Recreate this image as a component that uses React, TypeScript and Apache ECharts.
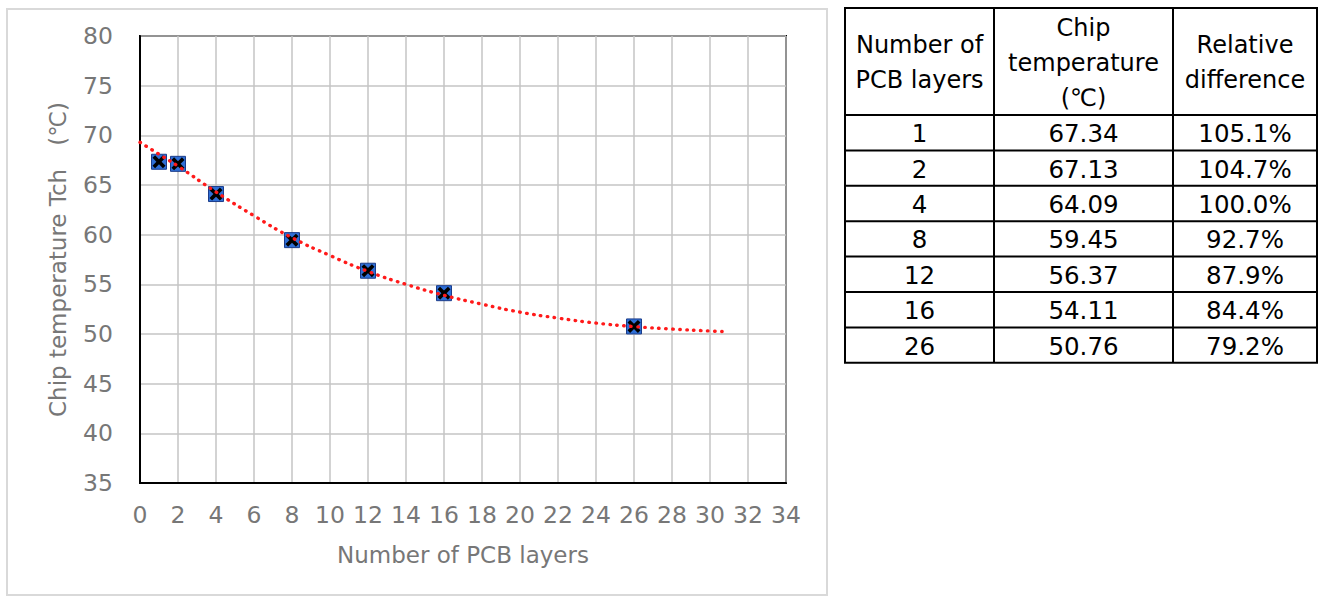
import React, { useEffect, useRef } from "react";
import * as echarts from "echarts";

const layers = [1, 2, 4, 8, 12, 16, 26];
const chipTemps = [67.34, 67.13, 64.09, 59.45, 56.37, 54.11, 50.76];
const relativeDiff = ["105.1%", "104.7%", "100.0%", "92.7%", "87.9%", "84.4%", "79.2%"];
const trendX = [0, 1, 2, 4, 6, 8, 10, 12, 14, 16, 18, 20, 22, 24, 26, 28, 30, 30.7];
const trendY = [69.3, 68.1, 66.9, 64.3, 61.9, 59.7, 57.9, 56.3, 55.0, 53.9, 53.0, 52.2, 51.6, 51.1, 50.75, 50.5, 50.3, 50.25];
const tableHeaders = ["Number of\nPCB layers", "Chip\ntemperature\n(℃)", "Relative\ndifference"];
const xAxisName = "Number of PCB layers";
const yAxisName = "Chip temperature Tch\u3000(℃)";

const FONT = "'DejaVu Sans', 'Noto Sans CJK JP', sans-serif";

export default function App() {
  const ref = useRef<HTMLDivElement>(null);

  useEffect(() => {
    document.body.style.margin = "0";
    if (!ref.current) return;
    const chart = echarts.init(ref.current, null, { renderer: "svg" });

    const colX = [845, 994, 1173, 1317];
    const tTop = 8;
    const headBottom = 115;
    const rowH = 35.4;
    const nRows = layers.length;
    const tBottom = headBottom + rowH * nRows;
    const els: any[] = [];
    els.push({
      type: "rect",
      shape: { x: 7, y: 9, width: 820, height: 586 },
      style: { fill: "none", stroke: "#d9d9d9", lineWidth: 2 },
      silent: true,
    });
    colX.forEach((x) => {
      els.push({ type: "line", shape: { x1: x, y1: tTop, x2: x, y2: tBottom }, style: { stroke: "#000", lineWidth: 2 } });
    });
    const rowYs = [tTop, headBottom];
    for (let i = 1; i <= nRows; i++) rowYs.push(headBottom + rowH * i);
    rowYs.forEach((y) => {
      els.push({ type: "line", shape: { x1: colX[0] - 1, y1: y, x2: colX[3] + 1, y2: y }, style: { stroke: "#000", lineWidth: 2 } });
    });
    const colC = [0, 1, 2].map((i) => (colX[i] + colX[i + 1]) / 2);
    tableHeaders.forEach((h, i) => {
      els.push({
        type: "text",
        x: colC[i],
        y: (tTop + headBottom) / 2 + 1,
        style: { text: h, fontSize: 24, fontFamily: FONT, fill: "#000", align: "center", verticalAlign: "middle", lineHeight: 35 },
      });
    });
    layers.forEach((l, r) => {
      const cy = headBottom + rowH * (r + 0.5) + 1;
      const vals = [String(l), chipTemps[r].toFixed(2), relativeDiff[r]];
      vals.forEach((v, c) => {
        els.push({
          type: "text",
          x: colC[c],
          y: cy,
          style: { text: v, fontSize: 24.5, fontFamily: FONT, fill: "#000", align: "center", verticalAlign: "middle" },
        });
      });
    });

    const pts = layers.map((x, i) => [x, chipTemps[i]]);

    chart.setOption({
      animation: false,
      backgroundColor: "#fff",
      textStyle: { fontFamily: FONT },
      grid: { left: 140, top: 36, right: 1322 - 786, bottom: 599 - 483, show: true, borderColor: "#000", borderWidth: 2 },
      xAxis: {
        type: "value",
        min: 0,
        max: 34,
        interval: 2,
        name: xAxisName,
        nameLocation: "middle",
        nameGap: 60,
        nameTextStyle: { fontSize: 23, color: "#777", fontFamily: FONT },
        axisLine: { show: true, lineStyle: { color: "#000", width: 2 } },
        axisTick: { show: false },
        axisLabel: { fontSize: 23.5, color: "#777", margin: 20, fontFamily: FONT },
        splitLine: { show: true, lineStyle: { color: "#c4c4c4", width: 1.5 } },
      },
      yAxis: {
        type: "value",
        min: 35,
        max: 80,
        interval: 5,
        name: yAxisName,
        nameLocation: "middle",
        nameGap: 71,
        nameTextStyle: { fontSize: 23, color: "#777", fontFamily: FONT },
        axisLine: { show: true, lineStyle: { color: "#000", width: 2 } },
        axisTick: { show: false },
        axisLabel: { fontSize: 23.5, color: "#777", margin: 27, fontFamily: FONT },
        splitLine: { show: true, lineStyle: { color: "#c4c4c4", width: 1.5 } },
      },
      series: [
        {
          type: "scatter",
          data: pts,
          symbol: "rect",
          symbolSize: 15,
          itemStyle: { color: "#2f6fd6", borderColor: "#1b3c8a", borderWidth: 1, opacity: 1 },
          z: 2,
        },
        {
          type: "scatter",
          data: pts,
          symbol: "path://M0,2L2,0L5,3L8,0L10,2L7,5L10,8L8,10L5,7L2,10L0,8L3,5Z",
          symbolSize: 13,
          itemStyle: { color: "#000", opacity: 1 },
          z: 3,
        },
        {
          type: "line",
          data: trendX.map((x, i) => [x, trendY[i]]),
          smooth: true,
          showSymbol: false,
          symbol: "none",
          lineStyle: { color: "#ff1a1a", width: 3.4, type: [0.5, 6.5], cap: "round" },
          z: 4,
        },
      ],
      graphic: { elements: els },
    });

    return () => chart.dispose();
  }, []);

  return <div ref={ref} style={{ width: 1322, height: 599 }} />;
}
